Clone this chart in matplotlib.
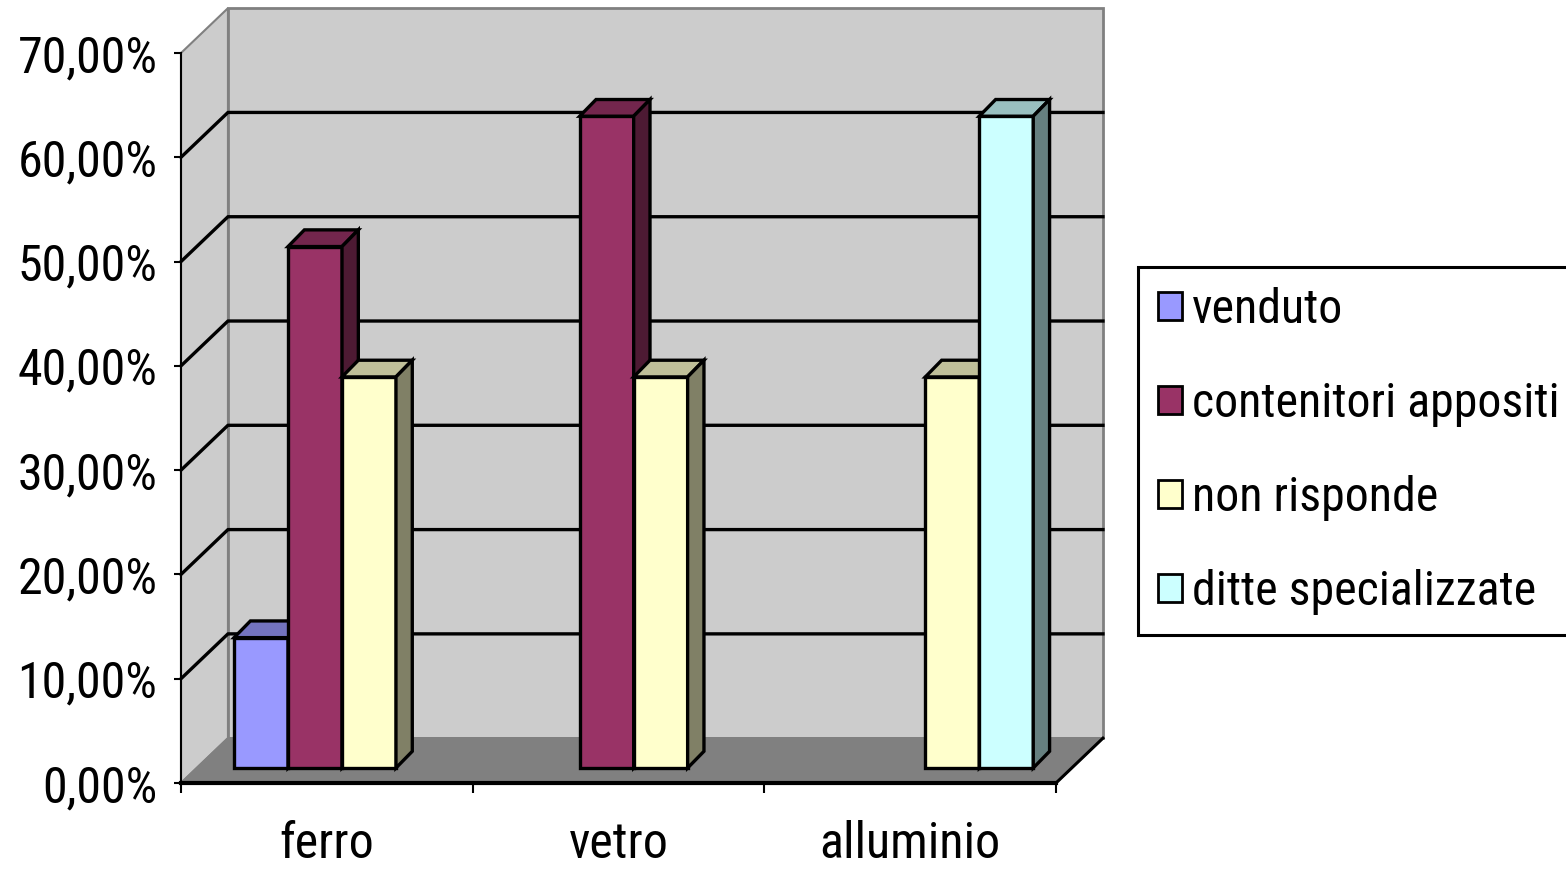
import matplotlib
matplotlib.use("Agg")
import matplotlib.pyplot as plt
from matplotlib.patches import Polygon, Patch
from matplotlib import font_manager
from matplotlib.colors import to_rgb

categories = ["ferro", "vetro", "alluminio"]
series = ["venduto", "contenitori appositi", "non risponde", "ditte specializzate"]
venduto = [12.5, 0, 0]
contenitori = [50.0, 62.5, 0]
non_risponde = [37.5, 37.5, 37.5]
ditte = [0, 0, 62.5]
colors = ["#9999FF", "#993366", "#FFFFCC", "#CCFFFF"]
y_ticks = [0, 10, 20, 30, 40, 50, 60, 70]
y_labels = ["0,00%", "10,00%", "20,00%", "30,00%", "40,00%", "50,00%", "60,00%", "70,00%"]

# narrow font like Arial Narrow
names = {f.name for f in font_manager.fontManager.ttflist}
wanted = ["Liberation Sans Narrow", "Arial Narrow", "Roboto Condensed",
          "PT Sans Narrow", "Archivo Narrow", "Barlow Semi Condensed"]
font = next((f for f in wanted if f in names), "Liberation Sans")
plt.rcParams["font.family"] = [font, "DejaVu Sans"]


def shade(c, k):
    r, g, b = to_rgb(c)
    return (r * k, g * k, b * k)


fig = plt.figure(figsize=(15.66, 8.69), dpi=100)
ax = fig.add_axes([181 / 1566, 86 / 869, 875 / 1566, 730 / 869])
ax.set_facecolor("none")
ax.set_xlim(0, 3)
ax.set_ylim(0, 70)

# depth of the floor and of the bars (oblique projection)
DX, DY = 0.161, 4.3
FX, FY = 0.052, 1.44
BX, BY = 0.056, 1.6
W = 0.185
GAP = 0.13
TOP = 70

wall = "#CCCCCC"
edge = "#808080"
ax.add_patch(Polygon([(0, 0), (0, TOP), (DX, TOP + DY), (DX, DY)], closed=True,
                     facecolor=wall, edgecolor=edge, lw=1.5, zorder=0.5, clip_on=False))
ax.add_patch(Polygon([(DX, DY), (DX, TOP + DY), (3 + DX, TOP + DY), (3 + DX, DY)], closed=True,
                     facecolor=wall, edgecolor=edge, lw=2, zorder=0.5, clip_on=False))
ax.add_patch(Polygon([(0, 0), (3, 0), (3 + DX, DY), (DX, DY)], closed=True,
                     facecolor="#808080", edgecolor=edge, lw=1.5, zorder=0.6, clip_on=False))
ax.plot([3, 3 + DX], [0, DY], color="black", lw=2.2, zorder=0.7, clip_on=False)

for y in y_ticks[1:-1]:
    ax.plot([0, DX, 3 + DX], [y, y + DY, y + DY], color="black", lw=2.4,
            zorder=1, clip_on=False)

data = [venduto, contenitori, non_risponde, ditte]
for i, (vals, col) in enumerate(zip(data, colors)):
    for c, v in enumerate(vals):
        if v <= 0:
            continue
        z = 3 + (c * 4 + i) * 0.1
        x0 = c + GAP + i * W + FX
        ax.bar(x0, v, width=W, bottom=FY, align="edge", color=col,
               edgecolor="black", lw=2.4, zorder=z, clip_on=False)
        top = [(x0, FY + v), (x0 + W, FY + v), (x0 + W + BX, FY + v + BY), (x0 + BX, FY + v + BY)]
        side = [(x0 + W, FY), (x0 + W + BX, FY + BY), (x0 + W + BX, FY + v + BY), (x0 + W, FY + v)]
        ax.add_patch(Polygon(top, closed=True, facecolor=shade(col, 0.75),
                             edgecolor="black", lw=2.4, zorder=z, clip_on=False))
        ax.add_patch(Polygon(side, closed=True, facecolor=shade(col, 0.5),
                             edgecolor="black", lw=2.4, zorder=z, clip_on=False))

ax.spines["top"].set_visible(False)
ax.spines["right"].set_visible(False)
ax.spines["left"].set_linewidth(1.5)
ax.spines["bottom"].set_linewidth(3)
ax.spines["bottom"].set_zorder(2)

ax.set_yticks(y_ticks, y_labels, fontsize=36)
ax.tick_params(axis="y", length=5, width=1.5, pad=12)
ax.set_xticks([0.5, 1.5, 2.5], categories, fontsize=36)
ax.set_xticks([0, 1, 2, 3], minor=True)
ax.tick_params(axis="x", which="major", length=0, pad=27)
ax.tick_params(axis="x", which="minor", length=7, width=1.5)

handles = [Patch(facecolor=c, edgecolor="black", lw=2) for c in colors]
leg = fig.legend(handles, series, loc="upper left",
                 bbox_to_anchor=(1138 / 1566, 1 - 267 / 869),
                 fontsize=34.5, frameon=True, fancybox=False, framealpha=1,
                 edgecolor="black", handlelength=0.5, handleheight=0.5,
                 handletextpad=0.2, labelspacing=1.0, borderpad=0.42,
                 borderaxespad=0)
leg.get_frame().set_linewidth(2.2)

fig.savefig("out.png", dpi=100)
